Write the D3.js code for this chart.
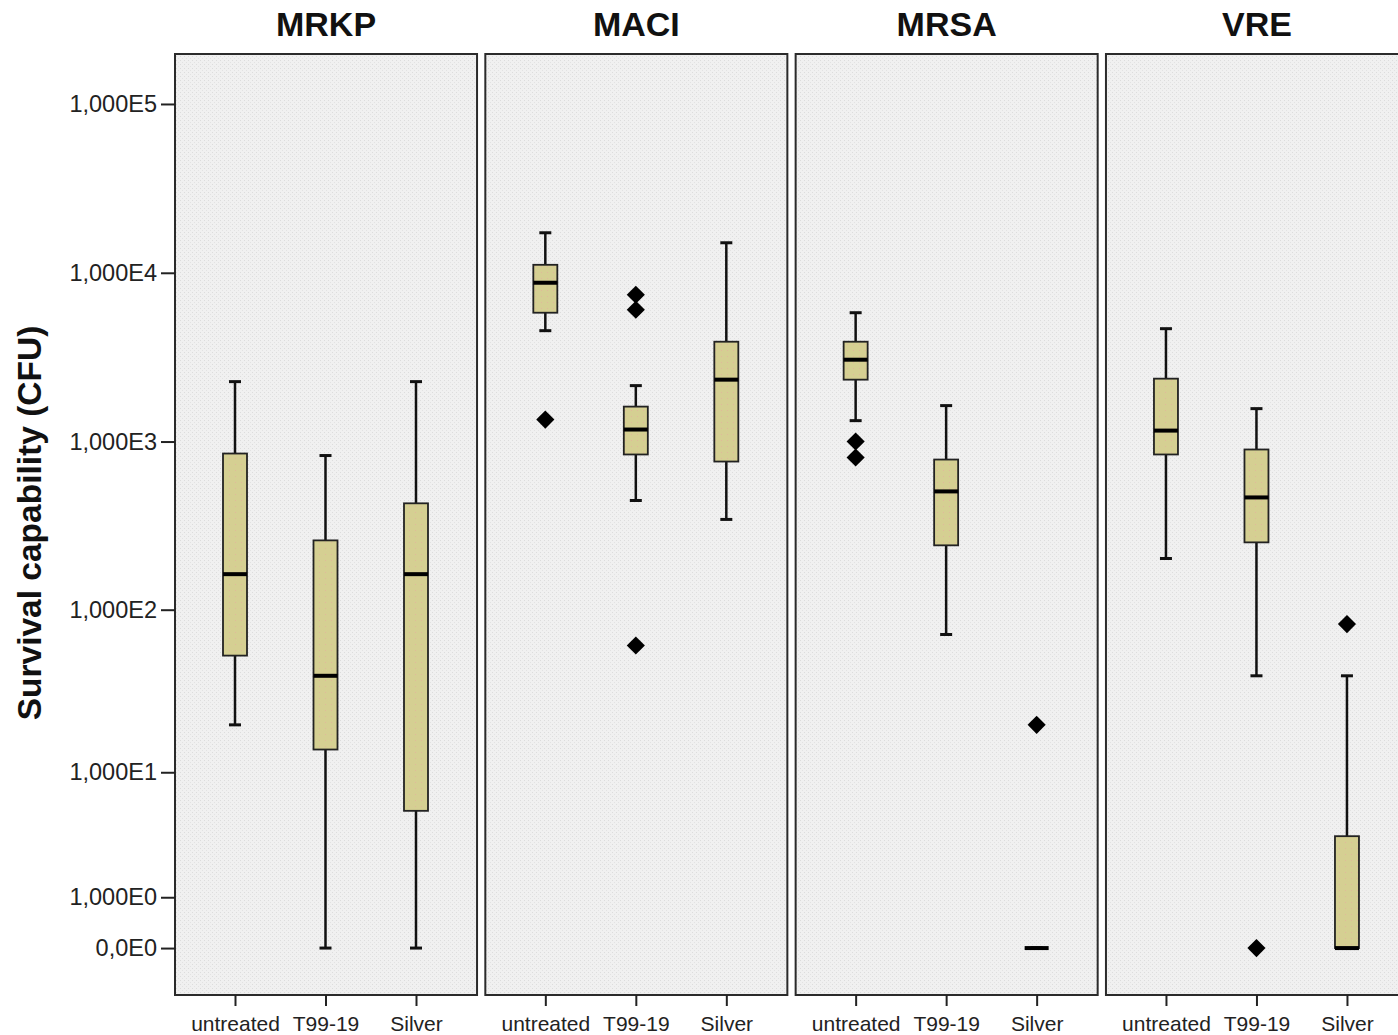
<!DOCTYPE html>
<html>
<head>
<meta charset="utf-8">
<script src="https://cdn.jsdelivr.net/npm/d3@7"></script>
<style>
  body { margin: 0; background: #fff; }
  svg { display: block; font-family: "Liberation Sans", Arial, sans-serif; }
</style>
</head>
<body>
<div id="chart"></div>
<script>
// panels and groups
let species = ["MRKP", "MACI", "MRSA", "VRE"];
let treatments = ["untreated", "T99-19", "Silver"];

// box stats per treatment: [lowWhisker, q1, median, q3, highWhisker] (CFU)
let mrkpStats = [[20, 53, 163, 849, 2265], [0, 14, 40, 259, 826], [0, 5.5, 163, 430, 2265]];
let maciStats = [[4540, 5800, 8730, 11150, 17260], [447, 838, 1178, 1611, 2145], [345, 761, 2327, 3905, 15060]];
let mrsaStats = [[1330, 2327, 3055, 3905, 5800], [71, 242, 506, 782, 1633], [0, 0, 0, 0, 0]];
let vreStats = [[202, 838, 1161, 2359, 4665], [40, 252, 466, 897, 1567], [0, 0, 0, 3.6, 40]];

// outliers per treatment
let mrkpOutliers = [[], [], []];
let maciOutliers = [[1350], [7410, 6040, 61], []];
let mrsaOutliers = [[1000, 804], [], [20]];
let vreOutliers = [[], [0], [82]];

// y axis ticks
let yTickValues = [0, 1, 10, 100, 1000, 10000, 100000];
let yTickLabels = ["0,0E0", "1,000E0", "1,000E1", "1,000E2", "1,000E3", "1,000E4", "1,000E5"];

let allStats = [mrkpStats, maciStats, mrsaStats, vreStats];
let allOutliers = [mrkpOutliers, maciOutliers, mrsaOutliers, vreOutliers];

let svg = d3.select("#chart").append("svg")
    .attr("width", 1398)
    .attr("height", 1035);

let plotTop = 54, plotBottom = 995;

// value axis is log10(v + 1)
let yScale = d3.scaleLinear().domain([-0.278, 5.296]).range([plotBottom, plotTop]);
let yv = function (v) { return yScale(Math.log10(v + 1)); };

let panelScale = d3.scaleBand().domain(species).range([175, 1408]).paddingInner(0.0267);

// background stipple
let defs = svg.append("defs");
let pat = defs.append("pattern")
    .attr("id", "stipple")
    .attr("width", 4).attr("height", 4)
    .attr("patternUnits", "userSpaceOnUse");
pat.append("rect").attr("width", 4).attr("height", 4).attr("fill", "#f0f0f0");
pat.append("rect").attr("x", 0).attr("y", 0).attr("width", 1).attr("height", 1).attr("fill", "#dcdcdc");
pat.append("rect").attr("x", 2).attr("y", 2).attr("width", 1).attr("height", 1).attr("fill", "#e2e2e2");

let boxPat = defs.append("pattern")
    .attr("id", "boxfill")
    .attr("width", 6).attr("height", 6)
    .attr("patternUnits", "userSpaceOnUse");
boxPat.append("rect").attr("width", 6).attr("height", 6).attr("fill", "#d5cf92");
boxPat.append("rect").attr("x", 1).attr("y", 2).attr("width", 1).attr("height", 1).attr("fill", "#e0b99a");

let diamond = d3.symbol().type(d3.symbolSquare).size(165);

species.forEach(function (sp, i) {
    let x0 = panelScale(sp);
    let bw = panelScale.bandwidth();
    let g = svg.append("g");

    g.append("rect")
        .attr("x", x0).attr("y", plotTop)
        .attr("width", bw).attr("height", plotBottom - plotTop)
        .attr("fill", "url(#stipple)")
        .attr("stroke", "#2b2b2b")
        .attr("stroke-width", 2);

    g.append("text")
        .attr("x", x0 + bw / 2)
        .attr("y", 36)
        .attr("text-anchor", "middle")
        .attr("font-size", 34)
        .attr("font-weight", "bold")
        .attr("fill", "#111")
        .text(sp);

    let xScale = d3.scalePoint().domain(treatments).range([x0 + 60, x0 + 241]);

    // x axis
    let xAxis = g.append("g")
        .attr("transform", "translate(0," + plotBottom + ")")
        .call(d3.axisBottom(xScale).tickSize(11).tickPadding(10));
    xAxis.select(".domain").remove();
    xAxis.selectAll(".tick line").attr("stroke", "#222").attr("stroke-width", 2);
    xAxis.selectAll(".tick text")
        .attr("font-size", 21)
        .attr("fill", "#222")
        .attr("font-family", "'Liberation Sans', Arial, sans-serif");

    let stats = allStats[i];
    let outs = allOutliers[i];
    let boxW = 24, capW = 12;

    treatments.forEach(function (t, j) {
        let s = stats[j];
        let cx = xScale(t);
        // whiskers
        g.append("line")
            .attr("x1", cx).attr("x2", cx)
            .attr("y1", yv(s[0])).attr("y2", yv(s[4]))
            .attr("stroke", "#111").attr("stroke-width", 2.5);
        [s[0], s[4]].forEach(function (w) {
            g.append("line")
                .attr("x1", cx - capW / 2).attr("x2", cx + capW / 2)
                .attr("y1", yv(w)).attr("y2", yv(w))
                .attr("stroke", "#111").attr("stroke-width", 3);
        });
        // box
        g.append("rect")
            .attr("x", cx - boxW / 2)
            .attr("y", yv(s[3]))
            .attr("width", boxW)
            .attr("height", yv(s[1]) - yv(s[3]))
            .attr("fill", "url(#boxfill)")
            .attr("stroke", "#222")
            .attr("stroke-width", 1.8);
        // median
        g.append("line")
            .attr("x1", cx - boxW / 2).attr("x2", cx + boxW / 2)
            .attr("y1", yv(s[2])).attr("y2", yv(s[2]))
            .attr("stroke", "#000").attr("stroke-width", 4);
        // outliers
        outs[j].forEach(function (o) {
            g.append("path")
                .attr("d", diamond)
                .attr("transform", "translate(" + cx + "," + yv(o) + ") rotate(45)")
                .attr("fill", "#000");
        });
    });
});

// y axis on first panel
let yAxis = svg.append("g")
    .attr("transform", "translate(" + panelScale("MRKP") + ",0)")
    .call(d3.axisLeft(yScale)
        .tickValues(yTickValues.map(function (v) { return Math.log10(v + 1); }))
        .tickFormat(function (d, k) { return yTickLabels[k]; })
        .tickSize(14).tickPadding(4));
yAxis.select(".domain").remove();
yAxis.selectAll(".tick line").attr("stroke", "#222").attr("stroke-width", 2);
yAxis.selectAll(".tick text")
    .attr("font-size", 23.5)
    .attr("fill", "#222")
    .attr("font-family", "'Liberation Sans', Arial, sans-serif");

svg.append("text")
    .attr("transform", "translate(41,523) rotate(-90)")
    .attr("text-anchor", "middle")
    .attr("font-size", 33.5)
    .attr("font-weight", "bold")
    .attr("fill", "#111")
    .text("Survival capability (CFU)");
</script>
</body>
</html>
